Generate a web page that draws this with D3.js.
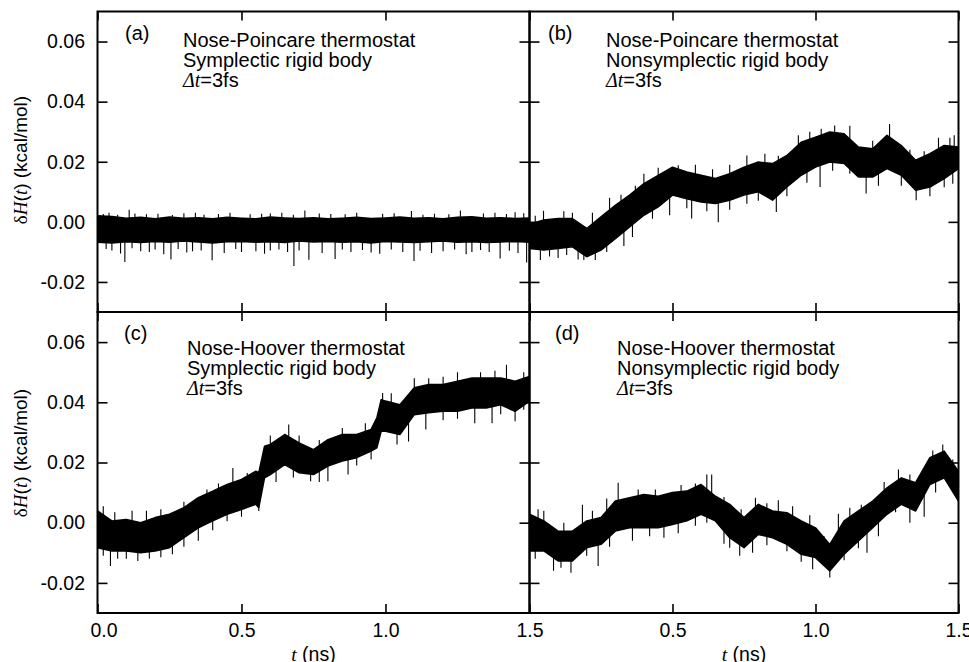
<!DOCTYPE html>
<html>
<head>
<meta charset="utf-8">
<script src="https://cdn.jsdelivr.net/npm/d3@7"></script>
<style>
  body { margin: 0; background: #fff; }
  text { font-family: "Liberation Sans", Arial, sans-serif; fill: #000; }
  .serif { font-family: "Liberation Serif", "Times New Roman", serif; font-style: italic; }
</style>
</head>
<body>
<svg id="chart" width="969" height="662"></svg>
<script>
// tick values and labels
const yTicks = [-0.02, 0.00, 0.02, 0.04, 0.06];
const xTicks = [0, 0.5, 1.0, 1.5];
const xTicksRight = [0.5, 1.0, 1.5];

// sample times (ns) for the band envelopes
const tStd = [0,0.05,0.1,0.15,0.2,0.25,0.3,0.35,0.4,0.45,0.5,0.55,0.6,0.65,0.7,0.75,
  0.8,0.85,0.9,0.95,1.0,1.05,1.1,1.15,1.2,1.25,1.3,1.35,1.4,1.45,1.5];
const tC = [0,0.05,0.1,0.15,0.2,0.25,0.3,0.35,0.4,0.45,0.5,0.55,0.56,0.58,0.6,0.65,0.7,0.75,
  0.8,0.85,0.9,0.95,0.97,0.985,1.0,1.05,1.1,1.15,1.2,1.25,1.3,1.35,1.4,1.45,1.5];

// (a) Nose-Poincare, symplectic : upper / lower edge of the dense trace (kcal/mol)
const aHi = [0.0020,0.0018,0.0012,0.0015,0.0010,0.0016,0.0012,0.0014,0.0010,0.0015,0.0012,
  0.0010,0.0016,0.0013,0.0011,0.0014,0.0010,0.0012,0.0015,0.0011,0.0013,0.0016,0.0012,
  0.0014,0.0010,0.0015,0.0017,0.0012,0.0014,0.0011,0.0013];
const aLo = [-0.0068,-0.0070,-0.0066,-0.0069,-0.0065,-0.0068,-0.0064,-0.0067,-0.0070,-0.0066,
  -0.0065,-0.0068,-0.0066,-0.0069,-0.0064,-0.0067,-0.0065,-0.0068,-0.0066,-0.0070,-0.0065,
  -0.0067,-0.0069,-0.0066,-0.0064,-0.0068,-0.0066,-0.0069,-0.0067,-0.0065,-0.0068];
// excursions sticking out of the band [t, value]
const aSpikes = [[0.095,-0.0134],[0.255,-0.0125],[0.398,-0.0128],[0.682,-0.0147],[0.734,-0.0126],
  [0.825,-0.0124],[1.099,-0.0130],[1.398,-0.0122],[1.49,-0.0135],[0.05,-0.0095],[0.18,-0.0100],
  [0.33,-0.0098],[0.5,-0.0100],[0.6,-0.0095],[0.95,-0.0102],[1.2,-0.0098],[1.3,-0.0100],
  [0.11,0.0040],[0.72,0.0038],[1.09,0.0036],[1.26,0.0038],[0.04,0.0030],[0.34,0.0030],
  [0.6,0.0028],[0.9,0.0030],[1.45,0.0032],
  [0.02,0.0026],[0.07,0.0024],[0.13,0.0028],[0.17,0.0025],[0.21,0.0027],[0.26,0.0023],
  [0.3,0.0029],[0.37,0.0024],[0.42,0.0026],[0.46,0.0030],[0.53,0.0025],[0.57,0.0027],
  [0.64,0.0030],[0.68,0.0024],[0.77,0.0028],[0.81,0.0026],[0.86,0.0025],[0.99,0.0027],
  [1.03,0.0029],[1.13,0.0024],[1.17,0.0027],[1.22,0.0025],[1.34,0.0028],[1.38,0.0030],
  [1.42,0.0026],[1.48,0.0029],
  [0.03,-0.0090],[0.08,-0.0105],[0.12,-0.0088],[0.15,-0.0098],[0.2,-0.0092],[0.23,-0.0108],
  [0.28,-0.0090],[0.31,-0.0102],[0.36,-0.0095],[0.44,-0.0104],[0.48,-0.0090],[0.55,-0.0098],
  [0.58,-0.0106],[0.63,-0.0092],[0.66,-0.0100],[0.7,-0.0095],[0.78,-0.0104],[0.85,-0.0092],
  [0.88,-0.0100],[0.92,-0.0094],[0.98,-0.0106],[1.02,-0.0092],[1.06,-0.0100],[1.12,-0.0096],
  [1.16,-0.0104],[1.24,-0.0092],[1.28,-0.0108],[1.33,-0.0094],[1.36,-0.0100],[1.43,-0.0096],
  [1.46,-0.0104]];

// (b) Nose-Poincare, nonsymplectic
const bHi = [-0.0008,0.0006,0.0011,0.0011,-0.0022,0.0017,0.0055,0.0089,0.0127,0.0155,0.0182,
  0.0166,0.0155,0.0144,0.0160,0.0182,0.0199,0.0194,0.0221,0.0265,0.0282,0.0299,0.0293,
  0.0249,0.0243,0.0288,0.0254,0.0205,0.0227,0.0254,0.0249];
const bLo = [-0.0089,-0.0094,-0.0089,-0.0083,-0.0116,-0.0094,-0.0056,-0.0017,0.0022,0.0050,
  0.0089,0.0077,0.0066,0.0061,0.0072,0.0089,0.0100,0.0072,0.0116,0.0155,0.0182,0.0199,
  0.0194,0.0149,0.0149,0.0177,0.0155,0.0105,0.0116,0.0144,0.0177];
const bSpikes = [[0.038,-0.0127],[0.19,-0.0127],[0.23,-0.0127],[0.1,-0.0120],[0.49,0.0022],
  [0.567,0.0011],[0.66,-0.0001],[0.863,0.0033],[1.016,0.0116],[1.177,0.0094],[1.352,0.0072],
  [1.48,0.0127],[0.33,-0.0080],[0.76,0.0060],[0.049,0.0037],[0.15,0.0030],[0.4,0.0160],
  [0.52,0.0188],[0.76,0.0221],[0.823,0.0227],[0.94,0.0288],[1.067,0.0321],[1.259,0.0326],
  [1.43,0.0280],[1.485,0.0288],[0.28,0.0080],
  [0.07,-0.0115],[0.13,-0.0110],[0.17,-0.0125],[0.27,-0.0100],[0.36,-0.0050],[0.43,0.0010],
  [0.55,0.0045],[0.62,0.0035],[0.7,0.0040],[0.8,0.0070],[0.9,0.0085],[0.97,0.0130],
  [1.06,0.0170],[1.12,0.0160],[1.22,0.0120],[1.3,0.0120],[1.4,0.0085],[1.45,0.0115],
  [0.02,0.0020],[0.12,0.0035],[0.22,0.0030],[0.32,0.0090],[0.37,0.0120],[0.45,0.0180],
  [0.58,0.0190],[0.64,0.0175],[0.7,0.0190],[0.87,0.0220],[0.98,0.0300],[1.02,0.0310],
  [1.12,0.0320],[1.2,0.0270],[1.33,0.0240],[1.38,0.0235],[1.47,0.0280]];

// (c) Nose-Hoover, symplectic
const cHi = [0.0039,0.0006,0.0011,0.0000,0.0017,0.0028,0.0050,0.0083,0.0105,0.0127,0.0144,
  0.0171,0.0166,0.0254,0.0260,0.0293,0.0265,0.0243,0.0276,0.0293,0.0293,0.0310,0.0348,
  0.0409,0.0404,0.0392,0.0448,0.0459,0.0459,0.0470,0.0481,0.0481,0.0481,0.0470,0.0486];
const cLo = [-0.0083,-0.0094,-0.0094,-0.0100,-0.0094,-0.0083,-0.0050,-0.0017,0.0006,0.0028,
  0.0044,0.0061,0.0050,0.0149,0.0160,0.0193,0.0166,0.0160,0.0188,0.0205,0.0216,0.0238,
  0.0249,0.0304,0.0304,0.0293,0.0359,0.0365,0.0370,0.0370,0.0381,0.0381,0.0392,0.0370,0.0404];
const cSpikes = [[0.045,-0.0144],[0.14,-0.0127],[0.1,-0.0120],[0.22,-0.0115],[0.35,-0.0060],
  [0.56,0.0039],[0.74,0.0138],[0.8,0.0138],[0.87,0.0160],[1.04,0.0260],[1.14,0.0310],
  [1.31,0.0330],[1.45,0.0337],[1.37,0.0330],[0.02,0.0055],[0.17,0.0040],[0.47,0.0182],
  [0.664,0.0326],[0.99,0.0431],[1.1,0.0480],[1.42,0.0525],[1.48,0.0500],[1.25,0.0500],
  [0.02,-0.0110],[0.07,-0.0120],[0.18,-0.0120],[0.26,-0.0105],[0.3,-0.0080],[0.4,-0.0025],
  [0.45,0.0005],[0.5,0.0020],[0.62,0.0135],[0.68,0.0150],[0.77,0.0135],[0.9,0.0190],
  [0.95,0.0210],[1.08,0.0270],[1.2,0.0340],[1.25,0.0345],[1.4,0.0360],[1.48,0.0375],
  [0.06,0.0035],[0.12,0.0040],[0.22,0.0045],[0.3,0.0070],[0.38,0.0110],[0.42,0.0130],
  [0.52,0.0165],[0.6,0.0290],[0.7,0.0290],[0.77,0.0275],[0.85,0.0315],[0.93,0.0330],
  [1.02,0.0430],[1.15,0.0480],[1.2,0.0485],[1.33,0.0500],[1.38,0.0505]];

// (d) Nose-Hoover, nonsymplectic
const dHi = [0.0028,0.0006,-0.0028,-0.0028,0.0006,0.0017,0.0072,0.0083,0.0094,0.0088,0.0100,
  0.0105,0.0127,0.0088,0.0061,0.0017,0.0061,0.0039,0.0033,0.0006,-0.0017,-0.0072,0.0006,
  0.0039,0.0072,0.0116,0.0149,0.0133,0.0216,0.0238,0.0171];
const dLo = [-0.0094,-0.0094,-0.0127,-0.0127,-0.0083,-0.0072,-0.0028,-0.0017,-0.0017,-0.0017,
  -0.0006,0.0006,0.0028,0.0006,-0.0050,-0.0083,-0.0039,-0.0050,-0.0072,-0.0105,-0.0116,
  -0.0160,-0.0105,-0.0061,-0.0017,0.0028,0.0061,0.0039,0.0127,0.0149,0.0072];
const dSpikes = [[0.084,-0.0160],[0.145,-0.0166],[0.24,-0.0144],[0.36,-0.0060],[0.70,-0.0083],
  [0.735,-0.0110],[0.99,-0.0155],[1.05,-0.0182],[1.33,0.0000],[0.47,-0.0050],[0.62,0.0000],
  [1.18,-0.0100],[0.31,0.0133],[0.185,0.0060],[0.62,0.0160],[0.637,0.0160],[0.79,0.0083],
  [1.29,0.0177],[1.445,0.0260],[1.12,0.0050],[0.87,0.0075],[0.05,0.0040],
  [0.02,-0.0120],[0.11,-0.0150],[0.2,-0.0110],[0.28,-0.0080],[0.42,-0.0045],[0.52,-0.0035],
  [0.58,-0.0010],[0.68,-0.0070],[0.78,-0.0100],[0.83,-0.0075],[0.9,-0.0095],[0.95,-0.0130],
  [1.1,-0.0125],[1.15,-0.0085],[1.22,-0.0045],[1.28,0.0035],[1.38,0.0020],[1.42,0.0100],
  [1.47,0.0125],
  [0.03,0.0045],[0.12,0.0000],[0.22,0.0040],[0.27,0.0080],[0.38,0.0110],[0.44,0.0110],
  [0.53,0.0125],[0.58,0.0130],[0.68,0.0085],[0.74,0.0045],[0.83,0.0065],[0.92,0.0055],
  [0.98,0.0025],[1.03,-0.0045],[1.08,0.0030],[1.16,0.0060],[1.24,0.0135],[1.33,0.0160],
  [1.41,0.0240],[1.48,0.0210]];

const svg = d3.select("#chart");

const xL = d3.scaleLinear().domain([0, 1.5]).range([97.5, 529.5]);
const xR = d3.scaleLinear().domain([0, 1.5]).range([529.5, 958.5]);
const yT = d3.scaleLinear().domain([-0.03, 0.07]).range([312, 11.5]);
const yB = d3.scaleLinear().domain([-0.03, 0.07]).range([613, 312]);

const panels = [
  {id: "a", x: xL, y: yT, t: tStd, hi: aHi, lo: aLo, spikes: aSpikes, left: true, bottom: false,
   tag: [125, 40], txt: [183, 47], lines: ["Nose-Poincare thermostat", "Symplectic rigid body"]},
  {id: "b", x: xR, y: yT, t: tStd, hi: bHi, lo: bLo, spikes: bSpikes, left: false, bottom: false,
   tag: [548, 40], txt: [606, 47], lines: ["Nose-Poincare thermostat", "Nonsymplectic rigid body"]},
  {id: "c", x: xL, y: yB, t: tC, hi: cHi, lo: cLo, spikes: cSpikes, left: true, bottom: true,
   tag: [124, 340], txt: [187, 355], lines: ["Nose-Hoover thermostat", "Symplectic rigid body"]},
  {id: "d", x: xR, y: yB, t: tStd, hi: dHi, lo: dLo, spikes: dSpikes, left: false, bottom: true,
   tag: [555, 340], txt: [617, 355], lines: ["Nose-Hoover thermostat", "Nonsymplectic rigid body"]}
];

const fmtY = d => d3.format(".2f")(d).replace("\u2212", "-");

const tickStyle = g => {
  g.select(".domain").remove();
  g.selectAll(".tick line").attr("stroke", "#000").attr("stroke-width", 1.6);
  g.selectAll(".tick text").style("font-size", "19.5px").attr("fill", "#000");
};

panels.forEach(p => {
  const [x0, x1] = p.x.range();
  const [y1, y0] = p.y.range();

  svg.append("clipPath").attr("id", "clip-" + p.id)
    .append("rect").attr("x", x0).attr("y", y0).attr("width", x1 - x0).attr("height", y1 - y0);

  const g = svg.append("g").attr("clip-path", `url(#clip-${p.id})`);

  const rows = p.t.map((t, i) => ({t, hi: p.hi[i], lo: p.lo[i]}));

  const area = d3.area()
    .x(d => p.x(d.t))
    .y0(d => p.y(d.lo))
    .y1(d => p.y(d.hi));

  g.append("path")
    .datum(rows)
    .attr("fill", "#000")
    .attr("stroke", "#000")
    .attr("stroke-width", 1.5)
    .attr("stroke-linejoin", "round")
    .attr("d", area);

  // spikes: vertical strokes from the middle of the band out to the extreme value
  const bis = d3.bisector(d => d.t).left;
  const mid = t => {
    const i = Math.min(Math.max(bis(rows, t), 1), rows.length - 1);
    const a = rows[i - 1], b = rows[i];
    const f = (t - a.t) / (b.t - a.t);
    return ((a.hi + a.lo) / 2) * (1 - f) + ((b.hi + b.lo) / 2) * f;
  };
  g.selectAll("line.spike")
    .data(p.spikes)
    .join("line")
      .attr("class", "spike")
      .attr("x1", d => p.x(d[0]))
      .attr("x2", d => p.x(d[0]))
      .attr("y1", d => p.y(mid(d[0])))
      .attr("y2", d => p.y(d[1]))
      .attr("stroke", "#000")
      .attr("stroke-width", 1.1);

  // y ticks, inward on both sides
  svg.append("g")
    .attr("transform", `translate(${x0},0)`)
    .call(d3.axisLeft(p.y).tickValues(yTicks).tickSize(-10).tickPadding(12.5)
      .tickFormat(p.left ? fmtY : ""))
    .call(tickStyle);
  svg.append("g")
    .attr("transform", `translate(${x1},0)`)
    .call(d3.axisRight(p.y).tickValues(yTicks).tickSize(-10).tickFormat(""))
    .call(tickStyle);

  // x ticks, inward top and bottom
  svg.append("g")
    .attr("transform", `translate(0,${y0})`)
    .call(d3.axisTop(p.x).tickValues(xTicks).tickSize(-9).tickFormat(""))
    .call(tickStyle);
  const xb = svg.append("g")
    .attr("transform", `translate(0,${y1})`)
    .call(d3.axisBottom(p.x).tickValues(p.bottom ? (p.left ? xTicks : xTicksRight) : xTicks)
      .tickSize(-9).tickPadding(10)
      .tickFormat(p.bottom ? d3.format(".1f") : ""))
    .call(tickStyle);
  // the first label sits a little right of its tick in the original
  if (p.bottom && p.left) xb.select(".tick text").attr("dx", 6);

  // frame
  svg.append("rect")
    .attr("x", x0).attr("y", y0)
    .attr("width", x1 - x0).attr("height", y1 - y0)
    .attr("fill", "none").attr("stroke", "#000").attr("stroke-width", 2);

  // panel annotation
  svg.append("text")
    .attr("x", p.tag[0]).attr("y", p.tag[1])
    .style("font-size", "20px")
    .text(`(${p.id})`);

  const ann = svg.append("text")
    .attr("x", p.txt[0]).attr("y", p.txt[1])
    .style("font-size", "20px");
  p.lines.forEach((l, i) => {
    ann.append("tspan").attr("x", p.txt[0]).attr("dy", i === 0 ? 0 : 20).text(l);
  });
  const dt = ann.append("tspan").attr("x", p.txt[0]).attr("dy", 20);
  dt.append("tspan").attr("class", "serif").text("Δt");
  dt.append("tspan").text("=3fs");

  // axis titles
  if (p.bottom) {
    const xt = svg.append("text")
      .attr("x", (x0 + x1) / 2).attr("y", 661)
      .attr("text-anchor", "middle")
      .style("font-size", "19.5px");
    xt.append("tspan").attr("class", "serif").text("t");
    xt.append("tspan").text(" (ns)");
  }
  if (p.left) {
    const cy = p.bottom ? 453 : 160;
    const yt = svg.append("text")
      .attr("transform", `translate(27,${cy}) rotate(-90)`)
      .attr("text-anchor", "middle")
      .style("font-size", "19px");
    yt.append("tspan").attr("class", "serif").style("font-style", "normal").text("δ");
    yt.append("tspan").attr("class", "serif").text("H");
    yt.append("tspan").text("(");
    yt.append("tspan").attr("class", "serif").text("t");
    yt.append("tspan").text(") (kcal/mol)");
  }
});
</script>
</body>
</html>
